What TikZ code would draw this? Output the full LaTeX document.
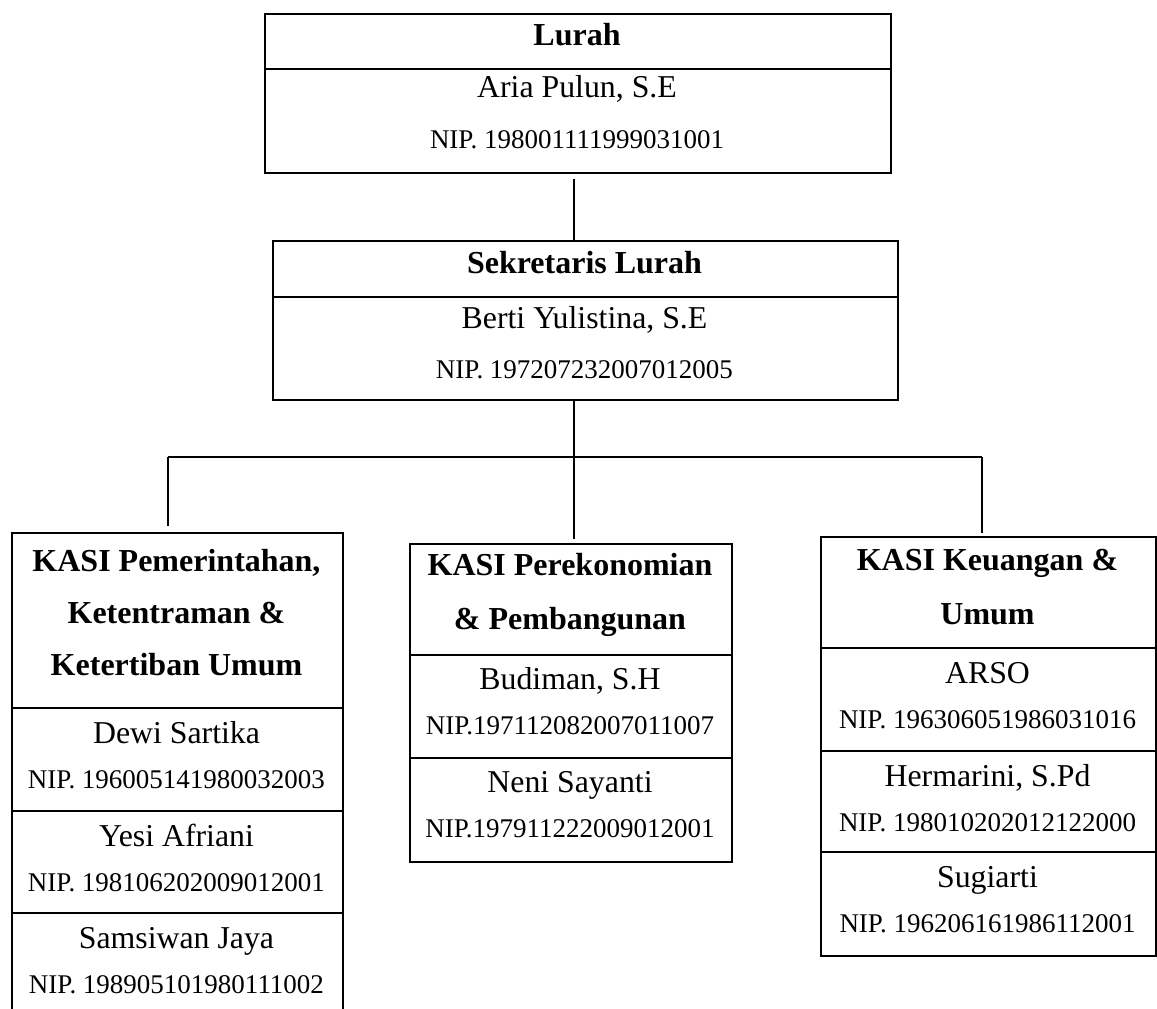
\documentclass[tikz,border=0pt]{standalone}
\usepackage{fontspec}
\setmainfont{Liberation Serif}
\begin{document}
\begin{tikzpicture}[x=0.5pt,y=-0.5pt,
  box/.style={draw, line width=1.1pt, rectangle, inner sep=0pt, anchor=north west},
  conn/.style={line width=0.85pt},
  divl/.style={line width=1.1pt},
  hd/.style={font=\fontsize{16}{19}\selectfont\bfseries, anchor=base, inner sep=0pt},
  nm/.style={font=\fontsize{15.9}{19}\selectfont, anchor=base, inner sep=0pt},
  nip/.style={font=\fontsize{13.5}{16}\selectfont, anchor=base, inner sep=0pt}]
\useasboundingbox (0,0) rectangle (1157,1008);
\clip (0,0) rectangle (1157,1008);

% boxes
\node[box, minimum width=313pt, minimum height=79.5pt] (lurah) at (264,13) {};
\node[box, minimum width=312.5pt, minimum height=79.5pt] (sek) at (272,240) {};
\node[box, minimum width=165.5pt, minimum height=242pt] (kp) at (11,532) {};
\node[box, minimum width=161pt, minimum height=159pt] (ke) at (409,543) {};
\node[box, minimum width=167.5pt, minimum height=209.5pt] (ku) at (820,536) {};

% dividers
\draw[divl] (lurah.west |- 0,69) -- (lurah.east |- 0,69);
\draw[divl] (sek.west |- 0,297) -- (sek.east |- 0,297);
\draw[divl] (kp.west |- 0,708) -- (kp.east |- 0,708);
\draw[divl] (kp.west |- 0,811) -- (kp.east |- 0,811);
\draw[divl] (kp.west |- 0,913) -- (kp.east |- 0,913);
\draw[divl] (ke.west |- 0,655) -- (ke.east |- 0,655);
\draw[divl] (ke.west |- 0,758) -- (ke.east |- 0,758);
\draw[divl] (ku.west |- 0,648) -- (ku.east |- 0,648);
\draw[divl] (ku.west |- 0,751) -- (ku.east |- 0,751);
\draw[divl] (ku.west |- 0,852) -- (ku.east |- 0,852);

% connectors
\coordinate (bus) at (574,457);
\coordinate (jl) at (168,457);
\coordinate (jr) at (982,457);
\draw[conn, shorten <=2.5pt] (lurah.south -| bus) -- (sek.north -| bus);
\draw[conn] (sek.south -| bus) -- (bus);
\draw[conn] (jl) -- (jr);
\draw[conn, shorten >=3pt] (jl) -- (kp.north -| jl);
\draw[conn, shorten >=2pt] (bus) -- (ke.north -| bus);
\draw[conn, shorten >=1.5pt] (jr) -- (ku.north -| jr);

% Lurah texts
\node[hd]  (lurahH) at (577,45) {Lurah};
\node[nm]  (lurahN) at (577,97) {Aria Pulun, S.E};
\node[nip] (lurahP) at (577,148) {NIP. 198001111999031001};

% Sekretaris texts
\node[hd]  (sekH) at (584.5,273) {Sekretaris Lurah};
\node[nm]  (sekN) at (584.5,328) {Berti Yulistina, S.E};
\node[nip] (sekP) at (584.5,378) {NIP. 197207232007012005};

% left box texts
\node[hd]  (kpH1) at (176.5,571) {KASI Pemerintahan,};
\node[hd]  (kpH2) at (176.5,623) {Ketentraman \&};
\node[hd]  (kpH3) at (176.5,675) {Ketertiban Umum};
\node[nm]  (kpN1) at (176.5,743) {Dewi Sartika};
\node[nip] (kpP1) at (176.5,788) {NIP. 196005141980032003};
\node[nm]  (kpN2) at (176.5,846) {Yesi Afriani};
\node[nip] (kpP2) at (176.5,891) {NIP. 198106202009012001};
\node[nm]  (kpN3) at (176.5,948) {Samsiwan Jaya};
\node[nip] (kpP3) at (176.5,993) {NIP. 198905101980111002};

% middle box texts
\node[hd]  (keH1) at (570,575) {KASI Perekonomian};
\node[hd]  (keH2) at (570,629) {\& Pembangunan};
\node[nm]  (keN1) at (570,689) {Budiman, S.H};
\node[nip] (keP1) at (570,734) {NIP.197112082007011007};
\node[nm]  (keN2) at (570,792) {Neni Sayanti};
\node[nip] (keP2) at (570,837) {NIP.197911222009012001};

% right box texts
\node[hd]  (kuH1) at (987.5,570) {KASI Keuangan \&};
\node[hd]  (kuH2) at (987.5,624) {Umum};
\node[nm]  (kuN1) at (987.5,683) {ARSO};
\node[nip] (kuP1) at (987.5,728) {NIP. 196306051986031016};
\node[nm]  (kuN2) at (987.5,786) {Hermarini, S.Pd};
\node[nip] (kuP2) at (987.5,831) {NIP. 198010202012122000};
\node[nm]  (kuN3) at (987.5,887) {Sugiarti};
\node[nip] (kuP3) at (987.5,932) {NIP. 196206161986112001};
\end{tikzpicture}
\end{document}
